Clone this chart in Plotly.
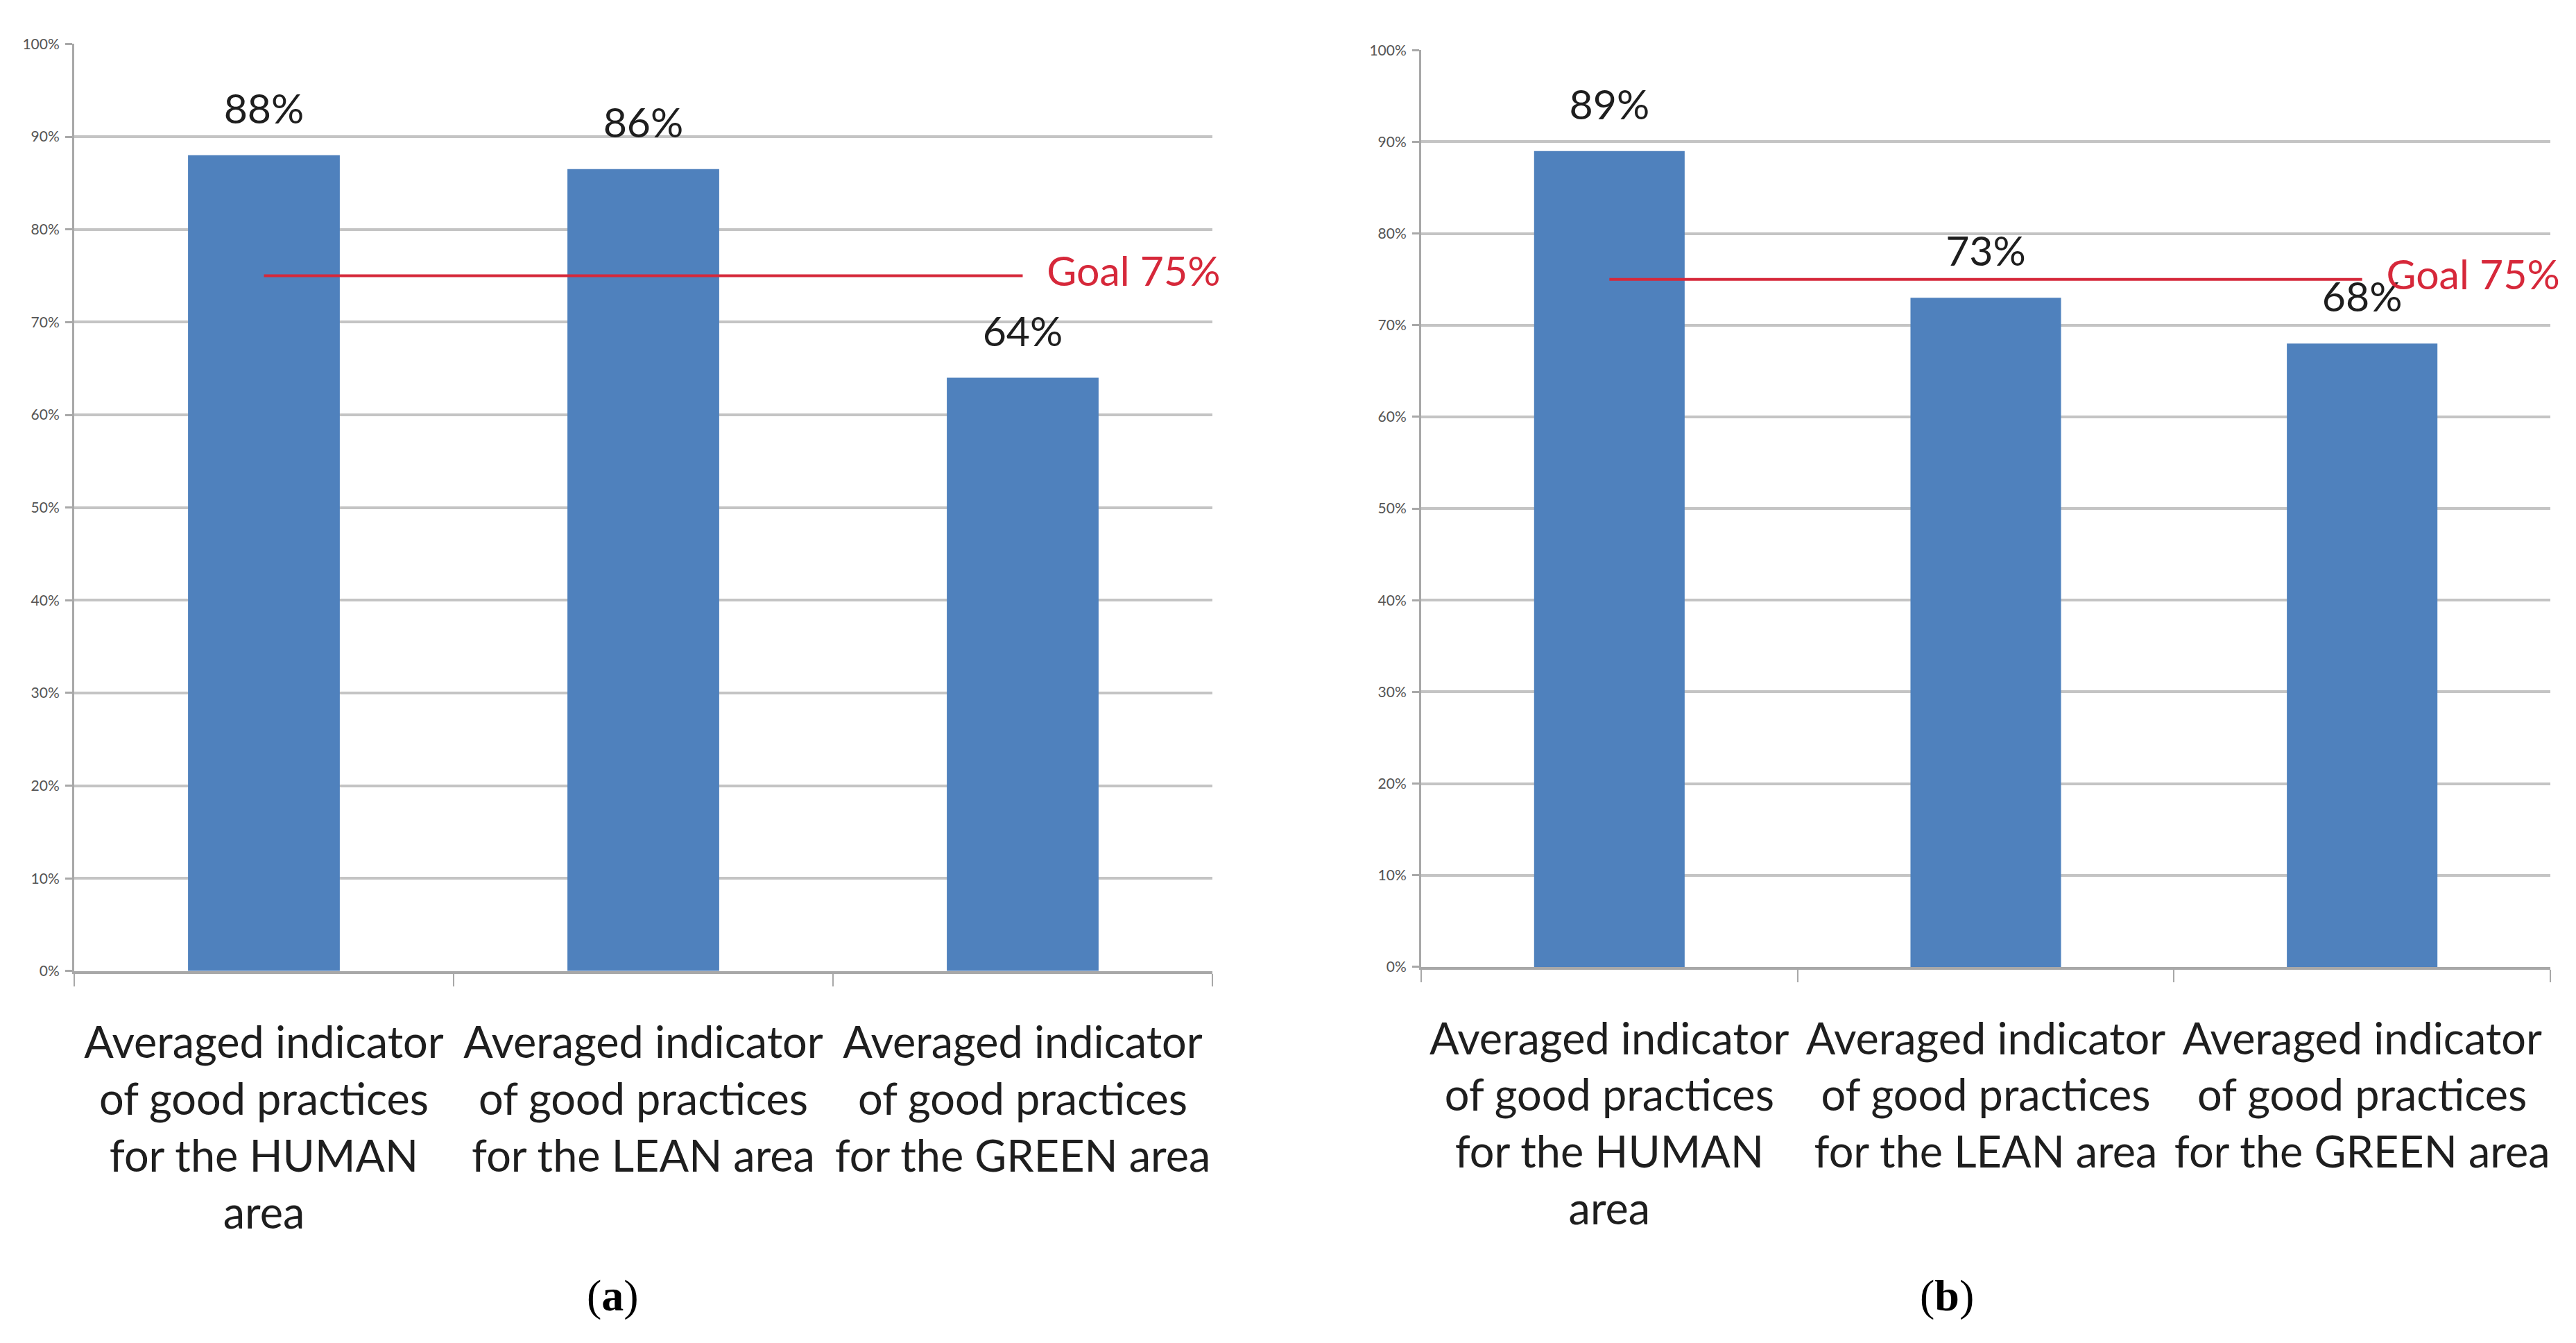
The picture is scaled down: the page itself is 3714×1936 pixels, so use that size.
import plotly.graph_objects as go

categories = [
    "Averaged indicator<br>of good practices<br>for the HUMAN<br>area",
    "Averaged indicator<br>of good practices<br>for the LEAN area",
    "Averaged indicator<br>of good practices<br>for the GREEN area",
]
values_a = [88, 86.5, 64]
labels_a = ["88%", "86%", "64%"]
values_b = [89, 73, 68]
labels_b = ["89%", "73%", "68%"]
goal = 75
goal_label = "Goal 75%"
y_ticks = [0, 10, 20, 30, 40, 50, 60, 70, 80, 90, 100]
y_tick_text = ["0%", "10%", "20%", "30%", "40%", "50%", "60%", "70%", "80%", "90%", "100%"]
captions = ["(<b>a</b>)", "(<b>b</b>)"]

OFF = 8  # page body margin
W, H = 3714 - 2 * OFF, 1936 - 2 * OFF
BAR = "#4F81BD"
GRID = "#c4c4c4"
AX = "#a8a8a8"
RED = "#d6283a"
FONT = "Lato"


def px_x(p):
    return (p - OFF) / W


def px_y(p):
    return 1 - (p - OFF) / H


fig = go.Figure()

panels = [
    (values_a, labels_a, "x", "y", [px_x(107), px_x(1748)], [px_y(1404), px_y(50)]),
    (values_b, labels_b, "x2", "y2", [px_x(2049), px_x(3677)], [px_y(1398), px_y(59)]),
]

for vals, labs, xa, ya, xdom, ydom in panels:
    fig.add_trace(go.Bar(x=categories, y=vals, marker=dict(color=BAR, line=dict(width=0)),
                         xaxis=xa, yaxis=ya, showlegend=False, hoverinfo="skip"))
    fig.add_trace(go.Scatter(x=categories, y=vals, mode="markers+text", text=labs,
                             textposition="top center",
                             marker=dict(size=48, opacity=0),
                             textfont=dict(family=FONT, size=59, color="#1e1e1e"),
                             xaxis=xa, yaxis=ya, showlegend=False, hoverinfo="skip"))
    fig.add_trace(go.Scatter(x=[categories[0], categories[-1]], y=[goal, goal],
                             mode="lines+markers+text", text=["", goal_label],
                             textposition="middle right",
                             marker=dict(size=[0, 54], opacity=0),
                             line=dict(color=RED, width=4),
                             textfont=dict(family=FONT, size=59, color=RED),
                             xaxis=xa, yaxis=ya, showlegend=False, hoverinfo="skip",
                             cliponaxis=False))

common_x = dict(type="category", showline=True, linecolor=AX, linewidth=4,
                ticks="outside", tickson="boundaries", ticklen=18, tickcolor=AX, tickwidth=2,
                showgrid=False, tickfont=dict(family=FONT, size=63, color="#1e1e1e"),
                tickangle=0, ticklabelstandoff=46, fixedrange=True)
common_y = dict(range=[0, 100], tickmode="array", tickvals=y_ticks, ticktext=y_tick_text,
                showline=True, linecolor=AX, linewidth=3, ticks="outside", ticklen=10,
                tickcolor=AX, tickwidth=3, showgrid=True, gridcolor=GRID, gridwidth=4,
                zeroline=False, tickfont=dict(family=FONT, size=21, color="#555555"),
                ticklabelstandoff=4, fixedrange=True)

fig.update_layout(
    width=W, height=H,
    margin=dict(l=0, r=0, t=0, b=0),
    paper_bgcolor="white", plot_bgcolor="white",
    bargap=0.6,
    xaxis=dict(domain=panels[0][4], anchor="y", **common_x),
    yaxis=dict(domain=panels[0][5], anchor="x", **common_y),
    xaxis2=dict(domain=panels[1][4], anchor="y2", **common_x),
    yaxis2=dict(domain=panels[1][5], anchor="x2", **common_y),
    annotations=[
        dict(text=captions[0], x=px_x(883), y=px_y(1878), xref="paper", yref="paper",
             xanchor="center", yanchor="middle", showarrow=False,
             font=dict(family="Liberation Serif", size=64, color="#000")),
        dict(text=captions[1], x=px_x(2807), y=px_y(1878), xref="paper", yref="paper",
             xanchor="center", yanchor="middle", showarrow=False,
             font=dict(family="Liberation Serif", size=64, color="#000")),
    ],
)

fig.write_html("out.html", config={"displayModeBar": False})
